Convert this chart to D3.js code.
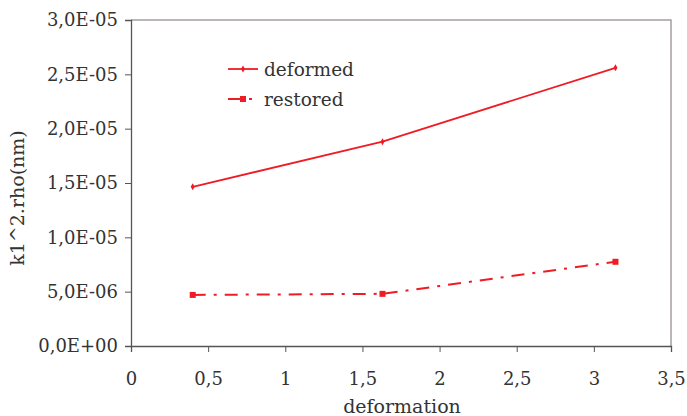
<!DOCTYPE html>
<html>
<head>
<meta charset="utf-8">
<script src="https://cdn.jsdelivr.net/npm/d3@7"></script>
<style>
  body { margin: 0; background: #fff; }
</style>
</head>
<body>
<div id="chart"></div>
<script>
// data
var deformation = [0.4, 1.63, 3.14];
var deformed = [1.465e-5, 1.88e-5, 2.56e-5];
var restored = [4.7e-6, 4.8e-6, 7.75e-6];
var xTicks = [0, 0.5, 1, 1.5, 2, 2.5, 3, 3.5];
var yTicks = [0, 5e-6, 1e-5, 1.5e-5, 2e-5, 2.5e-5, 3e-5];
var seriesNames = ["deformed", "restored"];

var svgWidth = 687;
var svgHeight = 416;
var margin = { top: 20, right: 16, bottom: 70, left: 131 };
var chartWidth = 671 - margin.left;
var chartHeight = 346 - margin.top;
var red = "#ee1c25";
var serif = "DejaVu Serif";

var svg = d3.select("#chart").append("svg")
    .attr("width", svgWidth)
    .attr("height", svgHeight)
    .attr("font-family", serif);

var chartGroup = svg.append("g")
    .attr("transform", `translate(${margin.left}, ${margin.top})`);

var xScale = d3.scaleLinear().domain([0, 3.5]).range([0, chartWidth]);
var yScale = d3.scaleLinear().domain([0, 3e-5]).range([chartHeight, 0]);

function fmtX(d) { return String(d).replace(".", ","); }
function fmtY(d) {
    var s = d3.format(".1e")(d);           // e.g. 2.5e-5
    var parts = s.split("e");
    var exp = +parts[1];
    var sign = exp < 0 ? "-" : "+";
    var e = String(Math.abs(exp)).padStart(2, "0");
    return parts[0].replace(".", ",") + "E" + sign + e;
}

// frame (top and right)
chartGroup.append("path")
    .attr("d", `M0,0H${chartWidth}V${chartHeight}`)
    .attr("fill", "none")
    .attr("stroke", "#a89f9f")
    .attr("stroke-width", 1.5);

var yAxis = d3.axisLeft(yScale).tickValues(yTicks).tickFormat(fmtY).tickSize(6).tickPadding(7);
var xAxis = d3.axisBottom(xScale).tickValues(xTicks).tickFormat(fmtX).tickSize(6).tickPadding(20);

var gy = chartGroup.append("g").attr("class", "y-axis").call(yAxis);
var gx = chartGroup.append("g").attr("class", "x-axis")
    .attr("transform", `translate(0, ${chartHeight})`).call(xAxis);

[gx, gy].forEach(function (g) {
    g.attr("font-family", serif).attr("font-size", 18);
    g.select(".domain").attr("stroke", "#555").attr("stroke-width", 1.3);
    g.selectAll(".tick line").attr("stroke", "#555");
    g.selectAll(".tick text").attr("fill", "#333");
});

// axis titles
chartGroup.append("text")
    .attr("x", chartWidth / 2 + 1)
    .attr("y", chartHeight + 67)
    .attr("text-anchor", "middle")
    .attr("font-size", 19)
    .attr("fill", "#333")
    .text("deformation");

chartGroup.append("text")
    .attr("transform", "rotate(-90)")
    .attr("x", -178)
    .attr("y", -107)
    .attr("text-anchor", "middle")
    .attr("font-size", 19)
    .attr("fill", "#333")
    .text("k1^2.rho(nm)");

// lines
var line = d3.line()
    .x((d, i) => xScale(deformation[i]))
    .y(d => yScale(d));

chartGroup.append("path")
    .datum(deformed)
    .attr("d", line)
    .attr("fill", "none")
    .attr("stroke", red)
    .attr("stroke-width", 1.8);

chartGroup.append("path")
    .datum(restored)
    .attr("d", line)
    .attr("fill", "none")
    .attr("stroke", red)
    .attr("stroke-width", 2)
    .attr("stroke-dasharray", "13,8,3,8");

// markers
chartGroup.selectAll(".dmark")
    .data(deformed)
    .enter()
    .append("path")
    .attr("class", "dmark")
    .attr("transform", (d, i) => `translate(${xScale(deformation[i])}, ${yScale(d)})`)
    .attr("d", d3.symbol().type(d3.symbolDiamond).size(14))
    .attr("fill", red);

chartGroup.selectAll(".rmark")
    .data(restored)
    .enter()
    .append("rect")
    .attr("class", "rmark")
    .attr("x", (d, i) => xScale(deformation[i]) - 3)
    .attr("y", d => yScale(d) - 3)
    .attr("width", 6)
    .attr("height", 6)
    .attr("fill", red);

// legend
var legend = svg.append("g").attr("transform", "translate(228, 69)");

legend.append("line")
    .attr("x1", 0).attr("x2", 30).attr("y1", 0).attr("y2", 0)
    .attr("stroke", red).attr("stroke-width", 1.8);
legend.append("path")
    .attr("transform", "translate(15, 0)")
    .attr("d", d3.symbol().type(d3.symbolDiamond).size(14))
    .attr("fill", red);

legend.append("line")
    .attr("x1", 0).attr("x2", 30).attr("y1", 30).attr("y2", 30)
    .attr("stroke", red).attr("stroke-width", 2)
    .attr("stroke-dasharray", "13,8,3,8");
legend.append("rect")
    .attr("x", 12).attr("y", 27).attr("width", 6).attr("height", 6)
    .attr("fill", red);

legend.selectAll(".ltext")
    .data(seriesNames)
    .enter()
    .append("text")
    .attr("class", "ltext")
    .attr("x", 36)
    .attr("y", (d, i) => i * 30 + 7)
    .attr("font-size", 18.5)
    .attr("fill", "#333")
    .text(d => d);
</script>
</body>
</html>
